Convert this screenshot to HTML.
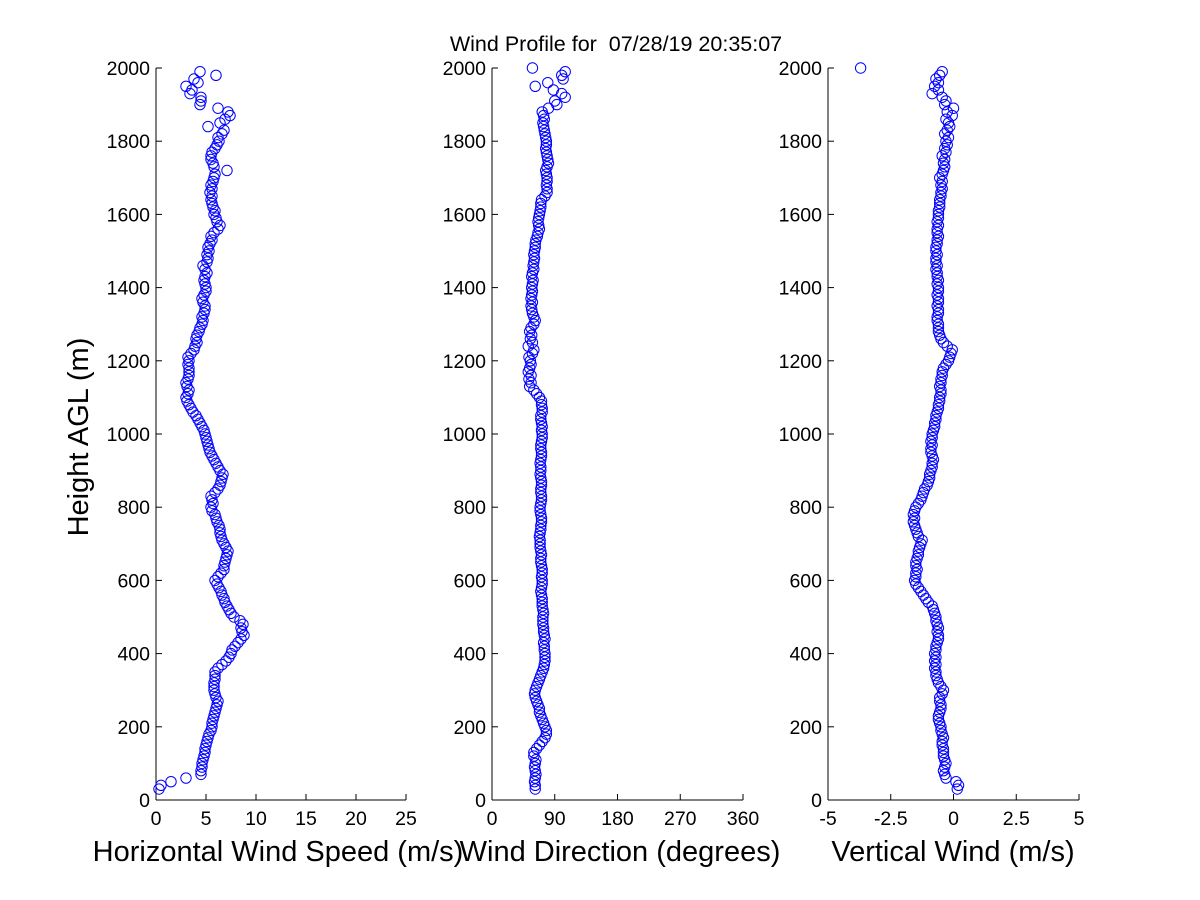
<!DOCTYPE html>
<html><head><meta charset="utf-8"><style>
html,body{margin:0;padding:0;background:#fff;}
svg{display:block;font-family:"Liberation Sans",sans-serif;}
</style></head><body>
<svg id="chart" width="1200" height="900" viewBox="0 0 1200 900" xmlns="http://www.w3.org/2000/svg">
<rect x="0" y="0" width="1200" height="900" fill="#fff"/>
<text x="616" y="51" font-size="21.5" text-anchor="middle" style="white-space:pre">Wind Profile for  07/28/19 20:35:07</text>
<text transform="translate(88,437) rotate(-90)" font-size="29" text-anchor="middle">Height AGL (m)</text>
<g id="plots"></g>
</svg>
<script>
const heights = [
30,40,50,60,70,80,90,100,110,120,
130,140,150,160,170,180,190,200,210,220,
230,240,250,260,270,280,290,300,310,320,
330,340,350,360,370,380,390,400,410,420,
430,440,450,460,470,480,490,500,510,520,
530,540,550,560,570,580,590,600,610,620,
630,640,650,660,670,680,690,700,710,720,
730,740,750,760,770,780,790,800,810,820,
830,840,850,860,870,880,890,900,910,920,
930,940,950,960,970,980,990,1000,1010,1020,
1030,1040,1050,1060,1070,1080,1090,1100,1110,1120,
1130,1140,1150,1160,1170,1180,1190,1200,1210,1220,
1230,1240,1250,1260,1270,1280,1290,1300,1310,1320,
1330,1340,1350,1360,1370,1380,1390,1400,1410,1420,
1430,1440,1450,1460,1470,1480,1490,1500,1510,1520,
1530,1540,1550,1560,1570,1580,1590,1600,1610,1620,
1630,1640,1650,1660,1670,1680,1690,1700,1710,1720,
1730,1740,1750,1760,1770,1780,1790,1800,1810,1820,
1830,1840,1850,1860,1870,1880,1890,1900,1910,1920,
1930,1940,1950,1960,1970,1980,1990,2000];
const speed = [
0.3,0.5,1.5,3.0,4.5,4.5,4.6,4.6,4.7,4.8,
4.9,4.9,5.0,5.1,5.2,5.3,5.5,5.6,5.6,5.7,
5.8,5.9,6.0,6.1,6.2,6.0,5.9,5.8,5.8,5.8,
5.9,5.9,5.9,6.2,6.6,7.0,7.3,7.5,7.6,7.9,
8.2,8.5,8.8,8.6,8.5,8.7,8.4,7.8,7.5,7.3,
7.1,6.9,6.8,6.6,6.5,6.3,6.1,5.9,6.2,6.5,
6.8,6.8,6.9,7.0,7.1,7.2,7.0,6.8,6.6,6.5,
6.4,6.4,6.3,6.1,6.0,5.9,5.6,5.5,5.7,5.6,
5.5,5.9,6.2,6.4,6.5,6.6,6.7,6.4,6.2,6.0,
5.8,5.6,5.4,5.3,5.2,5.1,5.0,4.9,4.8,4.6,
4.4,4.2,4.0,3.7,3.5,3.3,3.1,3.0,3.2,3.3,
3.1,3.0,3.2,3.3,3.3,3.3,3.2,3.3,3.2,3.5,
3.8,3.9,4.1,4.0,4.1,4.3,4.4,4.6,4.7,4.6,
4.8,4.9,4.9,4.7,4.6,4.8,5.0,5.0,4.9,4.8,
4.9,5.1,4.9,4.7,5.1,5.2,5.1,5.3,5.2,5.4,
5.6,5.5,5.8,6.2,6.4,6.1,6.0,5.8,5.9,5.7,
5.6,5.5,5.6,5.4,5.6,5.5,5.7,5.8,5.9,7.1,
5.8,5.7,5.5,5.5,5.6,5.9,6.1,6.3,6.2,6.6,
6.8,5.2,6.4,6.9,7.4,7.2,6.2,4.4,4.5,4.5,
3.4,3.6,3.0,4.2,3.8,6.0,4.4,null];
const direction = [
62,62,61,62,63,62,61,62,63,60,
60,64,68,72,76,78,78,76,74,72,
70,68,68,66,64,62,61,62,64,66,
68,70,72,74,75,76,76,76,75,75,
74,76,75,74,74,73,73,73,74,73,
72,72,72,71,70,71,72,72,71,72,
72,71,70,70,71,70,69,69,69,68,
69,70,70,71,71,70,69,69,70,71,
71,70,70,71,71,70,69,70,70,69,
70,71,71,70,70,71,72,72,71,72,
71,70,70,72,72,71,71,68,64,60,
54,56,53,56,52,54,56,55,53,58,
60,52,58,55,57,54,56,60,62,60,
58,57,56,58,56,57,58,57,58,59,
57,58,60,59,60,61,60,61,62,62,
63,65,66,68,67,66,67,68,69,70,
70,71,76,79,79,78,79,79,78,77,
79,81,80,79,78,77,78,78,77,76,
75,74,73,75,74,72,81,93,90,105,
100,88,62,80,102,100,105,58];
const vertical = [
0.15,0.2,0.1,-0.3,-0.35,-0.4,-0.35,-0.3,-0.35,-0.4,
-0.4,-0.4,-0.45,-0.45,-0.4,-0.45,-0.5,-0.5,-0.55,-0.6,
-0.6,-0.55,-0.5,-0.5,-0.55,-0.55,-0.45,-0.4,-0.5,-0.6,
-0.65,-0.7,-0.7,-0.75,-0.7,-0.75,-0.7,-0.75,-0.7,-0.7,
-0.65,-0.6,-0.6,-0.65,-0.6,-0.65,-0.7,-0.7,-0.75,-0.8,
-0.85,-1.0,-1.1,-1.2,-1.3,-1.4,-1.5,-1.55,-1.5,-1.5,
-1.45,-1.5,-1.5,-1.45,-1.4,-1.4,-1.35,-1.3,-1.25,-1.4,
-1.45,-1.5,-1.55,-1.6,-1.55,-1.6,-1.55,-1.5,-1.4,-1.3,
-1.25,-1.2,-1.15,-1.05,-1.0,-0.95,-0.95,-0.9,-0.85,-0.85,
-0.8,-0.85,-0.9,-0.9,-0.85,-0.9,-0.85,-0.85,-0.8,-0.75,
-0.75,-0.7,-0.7,-0.65,-0.6,-0.6,-0.55,-0.55,-0.5,-0.5,
-0.55,-0.5,-0.5,-0.45,-0.45,-0.4,-0.3,-0.2,-0.15,-0.1,
-0.05,-0.25,-0.4,-0.5,-0.55,-0.6,-0.6,-0.6,-0.65,-0.65,
-0.6,-0.6,-0.65,-0.6,-0.6,-0.65,-0.6,-0.6,-0.65,-0.6,
-0.65,-0.65,-0.7,-0.65,-0.7,-0.7,-0.65,-0.7,-0.7,-0.65,
-0.65,-0.6,-0.65,-0.65,-0.6,-0.65,-0.6,-0.6,-0.6,-0.55,
-0.55,-0.55,-0.5,-0.5,-0.45,-0.5,-0.45,-0.55,-0.45,-0.4,
-0.35,-0.4,-0.35,-0.45,-0.3,-0.35,-0.25,-0.3,-0.2,-0.35,
-0.25,-0.15,-0.2,-0.3,-0.05,-0.25,0.0,-0.35,-0.3,-0.45,
-0.85,-0.6,-0.75,-0.6,-0.7,-0.55,-0.45,-3.7];
const yTicks = [0,200,400,600,800,1000,1200,1400,1600,1800,2000];
const speedTicks = [0,5,10,15,20,25];
const speedTickLabels = ["0","5","10","15","20","25"];
const dirTicks = [0,90,180,270,360];
const dirTickLabels = ["0","90","180","270","360"];
const vertTicks = [-5,-2.5,0,2.5,5];
const vertTickLabels = ["-5","-2.5","0","2.5","5"];

const NS = "http://www.w3.org/2000/svg";
const root = document.getElementById("plots");
const Y0 = 800, Y1 = 68;
function yScale(h){ return Y0 - (h - 0) / 2000 * (Y0 - Y1); }
function mk(tag, attrs, parent){
  const e = document.createElementNS(NS, tag);
  for (const k in attrs) e.setAttribute(k, attrs[k]);
  parent.appendChild(e);
  return e;
}
function panel(name, x0, x1, dmin, dmax, ticks, tickLabels, values, xlabel, xlabelX){
  const g = mk("g", {}, root);
  
  
  const xs = v => x0 + (v - dmin) / (dmax - dmin) * (x1 - x0);
  const ax = mk("line", {x1:x0, y1:Y1, x2:x0, y2:Y0, stroke:"#000", "stroke-width":1}, g);
  
  
  const bx = mk("line", {x1:x0, y1:Y0, x2:x1, y2:Y0, stroke:"#000", "stroke-width":1}, g);
  
  
  yTicks.forEach(t => {
    const y = yScale(t);
    mk("line", {x1:x0, y1:y, x2:x0+6, y2:y, stroke:"#000"}, g);
    const tx = mk("text", {x:x0-6, y:y+7, "font-size":19.5, "text-anchor":"end"}, g);
    tx.textContent = t;
    
    
  });
  ticks.forEach((t, i) => {
    const x = xs(t);
    mk("line", {x1:x, y1:Y0, x2:x, y2:Y0-6, stroke:"#000"}, g);
    const tx = mk("text", {x:x, y:Y0+25, "font-size":19.5, "text-anchor":"middle"}, g);
    tx.textContent = tickLabels[i];
    
    
  });
  values.forEach((v, i) => {
    if (v === null || v === undefined) return;
    const c = mk("circle", {cx:xs(v), cy:yScale(heights[i]), r:5.2, fill:"none", stroke:"#0000ff", "stroke-width":1}, g);
    
    
  });
  const lb = mk("text", {x:xlabelX, y:861, "font-size":29, "text-anchor":"middle"}, g);
  lb.textContent = xlabel;
  
  
}
panel("speed", 156, 406, 0, 25, speedTicks, speedTickLabels, speed, "Horizontal Wind Speed (m/s)", 278);
panel("direction", 492, 743, 0, 360, dirTicks, dirTickLabels, direction, "Wind Direction (degrees)", 620);
panel("vertical", 828, 1079, -5, 5, vertTicks, vertTickLabels, vertical, "Vertical Wind (m/s)", 953);
</script>
</body></html>
